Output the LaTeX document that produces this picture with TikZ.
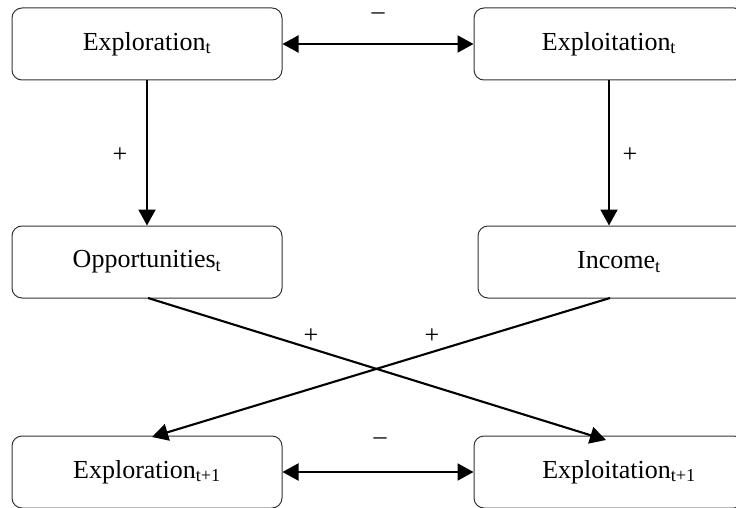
\documentclass[tikz,border=0pt]{standalone}
\usepackage{fontspec}
\setmainfont{Liberation Serif}
\usetikzlibrary{arrows.meta}
\begin{document}
\begin{tikzpicture}[x=1pt,y=-1pt,
  lbl/.style={font=\fontsize{26}{30}\selectfont},
  box/.style={draw=black!80,line width=1pt,rounded corners=10pt,minimum width=270pt,minimum height=72pt,inner sep=0pt,lbl},
  arr/.style={line width=2.1pt,-{Triangle[length=16pt,width=17pt]}},
  darr/.style={line width=2.1pt,{Triangle[length=16pt,width=17pt]}-{Triangle[length=16pt,width=17pt]}},
  sign/.style={font=\fontsize{26}{30}\selectfont,inner sep=0pt}]
\useasboundingbox (0,0) rectangle (736,508);
\node[box] (e1) at (147,44) {Exploration\textsubscript{t}};
\node[box] (x1) at (609,44) {Exploitation\textsubscript{t}};
\node[box] (o1) at (147,262) {Opportunities\textsubscript{t}};
\node[box,label={[lbl,xshift=6pt]center:Income\textsubscript{t}}] (i1) at (613,262) {};
\node[box] (e2) at (147,472) {Exploration\textsubscript{t+1}};
\node[box,label={[lbl,xshift=10pt]center:Exploitation\textsubscript{t+1}}] (x2) at (609,472) {};
\draw[darr] (e1.east) -- (x1.west);
\draw[darr] (e2.east) -- (x2.west);
\draw[arr] (e1.south) -- (o1.north);
\draw[arr] (x1.south) -- (i1.north -| x1.south);
\coordinate (otail) at (148,298);
\coordinate (itail) at (610,298);
\coordinate (ehead) at (152,437);
\coordinate (xhead) at (606,440);
\draw[arr] (otail) -- (xhead);
\draw[arr] (itail) -- (ehead);
\node[sign] (m1) at (378,16) {–};
\node[sign] (m2) at (380,441) {–};
\node[sign] (p1) at (120,155) {+};
\node[sign] (p2) at (630,155) {+};
\node[sign] (p3) at (311,336) {+};
\node[sign] (p4) at (432,336) {+};
\end{tikzpicture}
\end{document}
